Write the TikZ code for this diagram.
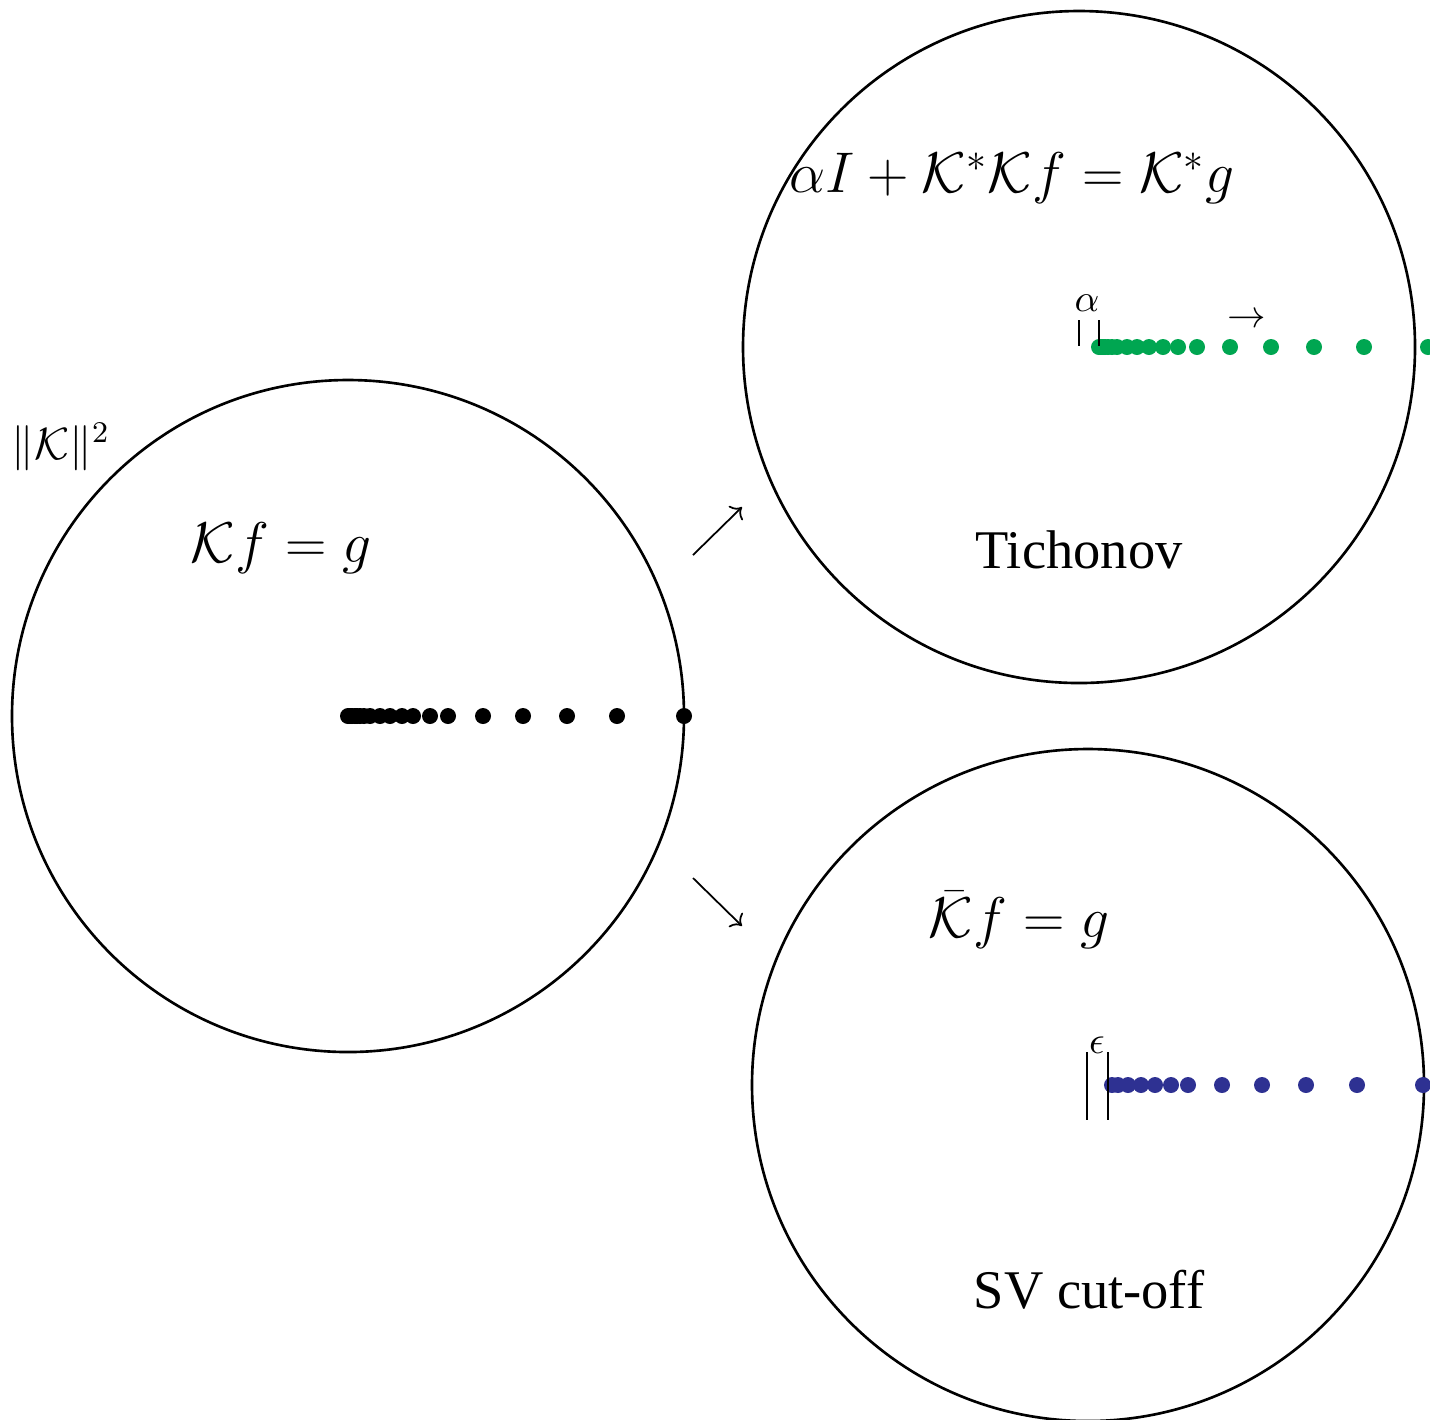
\documentclass[tikz,border=0pt]{standalone}
\usepackage{amsmath,amssymb}
\usepackage{graphicx}
\usepackage{fontspec}
\setmainfont{Liberation Serif}
\usepackage{tikz}
\usetikzlibrary{arrows.meta}
\definecolor{tichgreen}{RGB}{0,166,81}
\definecolor{svblue}{RGB}{46,49,146}
\newcommand{\eqnsize}[1]{\scalebox{0.945}{\fontsize{17.28}{20}\selectfont #1}}

\begin{document}
\begin{tikzpicture}[>=To,line join=round,
  disc/.style={circle,draw,line width=0.75pt,minimum size=6.72cm,inner sep=0pt},
  lbl/.style={font=\fontsize{15.5}{18}\selectfont},
  tick/.style={line width=0.8pt},
  small/.style={font=\fontsize{10.5}{12}\selectfont,inner sep=0pt}]
  \useasboundingbox (0,0) rectangle (14.30,-14.19);
  \node[disc] (orig) at (3.48,-7.16) {};
  \node[disc] (tich) at (10.79,-3.47) {};
  \node[disc] (svc) at (10.88,-10.85) {};
  % spectra
  \foreach \d in {0,0.02,0.04,0.07,0.09,0.12,0.16,0.22,0.32,0.42,0.54,0.65,0.82,1.00,1.35,1.75,2.19,2.69,3.36}
    \fill (orig.center) ++(\d,0) circle (0.08);
  \foreach \d in {0.20,0.22,0.24,0.26,0.29,0.33,0.38,0.48,0.58,0.70,0.84,0.99,1.18,1.51,1.92,2.35,2.85,3.49}
    \fill[tichgreen] (tich.center) ++(\d,0) circle (0.08);
  \foreach \d in {0.24,0.30,0.40,0.53,0.67,0.83,1.00,1.34,1.74,2.18,2.69,3.35}
    \fill[svblue] (svc.center) ++(\d,0) circle (0.08);
  % labels
  \node (norm) at (0.61,-4.47) {\scalebox{1.07}{\fontsize{12}{14}\selectfont $\|\mathcal{K}\|^2$}};
  \node (keq) at (2.81,-5.48) {\eqnsize{$\mathcal{K}f=g$}};
  \node (teq) at (10.12,-1.78) {\eqnsize{$\alpha I+\mathcal{K}^*\mathcal{K}f=\mathcal{K}^*g$}};
  \node (seq) at (10.19,-9.20) {\eqnsize{$\bar{\mathcal{K}}f=g$}};
  \node[lbl] (tname) at (10.79,-5.50) {Tichonov};
  \node[lbl] (sname) at (10.89,-12.90) {SV cut-off};
  % alpha gap
  \draw[tick] (10.79,-3.20) -- (10.79,-3.46);
  \draw[tick] (10.99,-3.20) -- (10.99,-3.46);
  \node[small] (alab) at (10.87,-3.03) {$\alpha$};
  \node[small] (shift) at (12.47,-3.20) {$\rightarrow$};
  % epsilon gap
  \draw[tick] (10.87,-10.52) -- (10.87,-11.20);
  \draw[tick] (11.08,-10.52) -- (11.08,-11.20);
  \node[small] (elab) at (10.97,-10.45) {$\epsilon$};
  % maps
  \coordinate (up0) at (6.93,-5.55);
  \coordinate (up1) at (7.42,-5.07);
  \coordinate (dn0) at (6.93,-8.78);
  \coordinate (dn1) at (7.42,-9.26);
  \draw[->,line width=0.5pt] (up0) -- (up1);
  \draw[->,line width=0.5pt] (dn0) -- (dn1);
\end{tikzpicture}
\end{document}
